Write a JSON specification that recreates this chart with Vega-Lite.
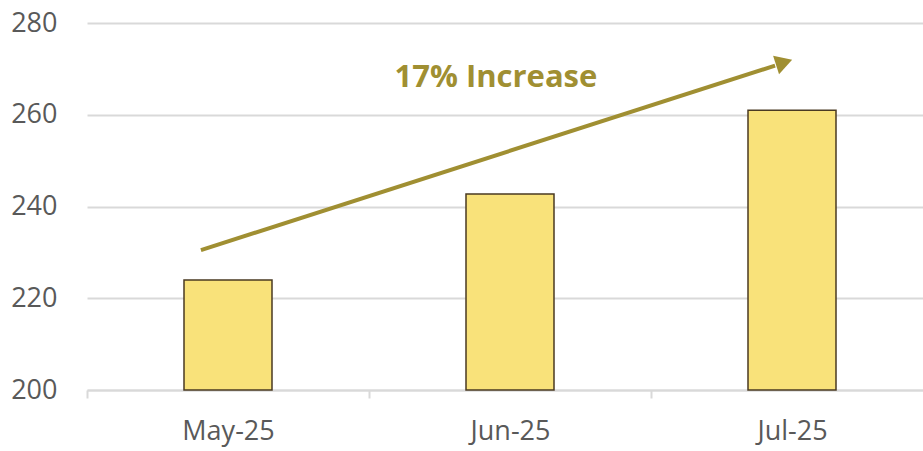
{
  "$schema": "https://vega.github.io/schema/vega-lite/v6.json",
  "width": 846,
  "height": 367,
  "autosize": {"type": "none"},
  "padding": {"left": 87, "top": 23, "right": 0, "bottom": 61},
  "background": "white",
  "config": {
    "view": {"stroke": null},
    "font": "Open Sans",
    "axis": {"labelFont": "Open Sans", "labelColor": "#595959", "labelFontSize": 27}
  },
  "datasets": {
    "bars": [
      {"month": "May-25", "value": 224, "base": 200},
      {"month": "Jun-25", "value": 242.7, "base": 200},
      {"month": "Jul-25", "value": 261, "base": 200}
    ],
    "arrow": [
      {"x": 0.404, "y": 230.5, "x2": 2.44, "y2": 270.7}
    ],
    "head": [
      {"x": 2.472, "y": 271.4}
    ],
    "note": [
      {"x": 1.45, "y": 268.0, "label": "17% Increase"}
    ]
  },
  "layer": [
    {
      "data": {"name": "bars"},
      "mark": {"type": "bar", "size": 88, "fill": "#F9E27A", "stroke": "#4A3A22", "strokeWidth": 1.5},
      "encoding": {
        "x": {
          "field": "month", "type": "nominal", "sort": null,
          "scale": {"paddingInner": 0, "paddingOuter": 0},
          "axis": {"title": null, "labelAngle": 0, "tickBand": "extent", "ticks": true, "tickSize": 8, "tickColor": "#D9D9D9", "tickWidth": 2, "domainColor": "#D9D9D9", "domainWidth": 2, "labelPadding": 20, "grid": false}
        },
        "y": {
          "field": "value", "type": "quantitative",
          "scale": {"domain": [200, 280], "nice": false, "zero": false},
          "axis": {"title": null, "values": [200, 220, 240, 260, 280], "ticks": false, "domain": false, "labelPadding": 30, "gridColor": "#D9D9D9", "gridWidth": 2}
        },
        "y2": {"field": "base"}
      }
    },
    {
      "data": {"name": "arrow"},
      "mark": {"type": "rule", "color": "#A08F32", "strokeWidth": 4},
      "encoding": {
        "x": {"field": "x", "type": "quantitative", "scale": {"domain": [0, 3], "nice": false}, "axis": null},
        "x2": {"field": "x2"},
        "y": {"field": "y", "type": "quantitative"},
        "y2": {"field": "y2"}
      }
    },
    {
      "data": {"name": "head"},
      "mark": {"type": "point", "shape": "triangle-right", "filled": true, "color": "#A08F32", "opacity": 1, "size": 380, "angle": -17.8},
      "encoding": {
        "x": {"field": "x", "type": "quantitative", "scale": {"domain": [0, 3], "nice": false}, "axis": null},
        "y": {"field": "y", "type": "quantitative"}
      }
    },
    {
      "data": {"name": "note"},
      "mark": {"type": "text", "font": "Open Sans", "fontWeight": "bold", "fontSize": 31, "color": "#A08F32", "baseline": "middle", "align": "center"},
      "encoding": {
        "x": {"field": "x", "type": "quantitative", "scale": {"domain": [0, 3], "nice": false}, "axis": null},
        "y": {"field": "y", "type": "quantitative"},
        "text": {"field": "label"}
      }
    }
  ],
  "resolve": {"scale": {"x": "independent"}}
}
